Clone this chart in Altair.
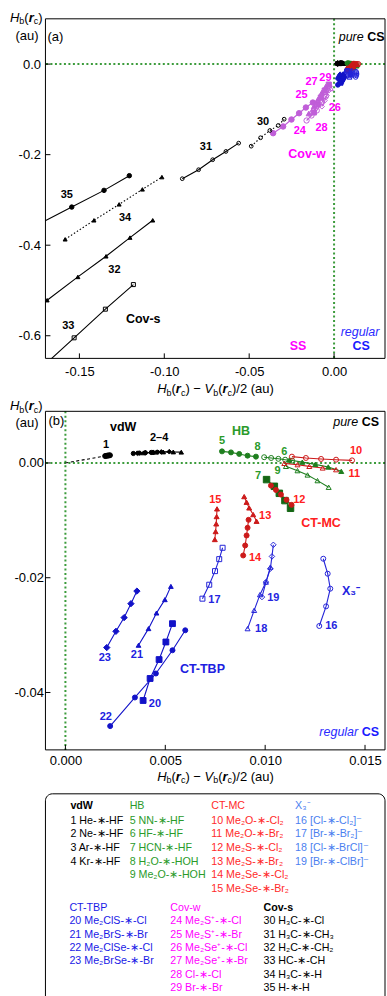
import altair as alt
import pandas as pd

FONT = "Liberation Sans"

# ---------------- series values (au) ----------------
# vdW
s01_x = [0.00199, 0.00205, 0.00211, 0.00217, 0.00223]
s01_y = [0.00120, 0.00124, 0.00128, 0.00131, 0.00134]
s01e_x = [0.0, 0.00199]
s01e_y = [0.0, 0.00120]
s02_x = [0.0034, 0.0037, 0.0040, 0.0043, 0.0046]
s02_y = [0.00165, 0.00172, 0.00178, 0.00183, 0.00187]
s03_x = [0.0036, 0.0040, 0.0044, 0.0048, 0.0052]
s03_y = [0.00170, 0.00178, 0.00186, 0.00192, 0.00196]
s04_x = [0.0039, 0.0044, 0.0049, 0.0054, 0.0058]
s04_y = [0.00176, 0.00185, 0.00192, 0.00192, 0.00188]
# HB
s05_x = [0.00784, 0.00829, 0.00870, 0.00912, 0.00954]
s05_y = [0.00202, 0.00184, 0.00157, 0.00127, 0.00110]
s06_x = [0.01121, 0.01186, 0.01251, 0.01316, 0.01381]
s06_y = [0.00052, 0.00014, -0.00024, -0.00070, -0.00146]
s07_x = [0.01007, 0.01046, 0.01071, 0.01099, 0.01127]
s07_y = [-0.00290, -0.00407, -0.00529, -0.00656, -0.00790]
s08_x = [0.00995, 0.01030, 0.01066, 0.01100, 0.01135]
s08_y = [0.00100, 0.00087, 0.00072, 0.00057, 0.00040]
s09_x = [0.01104, 0.01162, 0.01212, 0.01262, 0.01318]
s09_y = [-0.00059, -0.00134, -0.00209, -0.00308, -0.00424]
# CT-MC
s10_x = [0.01134, 0.01204, 0.01280, 0.01355, 0.01435]
s10_y = [0.00110, 0.00087, 0.00070, 0.00057, 0.00045]
s11_x = [0.01096, 0.01162, 0.01221, 0.01288, 0.01355]
s11_y = [-0.00007, -0.00030, -0.00059, -0.00087, -0.00117]
s12_x = [0.01029, 0.01054, 0.01079, 0.01107, 0.01132]
s12_y = [-0.00395, -0.00470, -0.00551, -0.00643, -0.00730]
s13_x = [0.00895, 0.00907, 0.00920, 0.00940, 0.00957]
s13_y = [-0.00586, -0.00685, -0.00783, -0.00899, -0.01016]
s14_x = [0.00917, 0.00912, 0.00907, 0.00900, 0.00890]
s14_y = [-0.00991, -0.01130, -0.01264, -0.01438, -0.01612]
s15_x = [0.00759, 0.00757, 0.00755, 0.00752, 0.00748]
s15_y = [-0.00800, -0.00934, -0.01061, -0.01195, -0.01334]
# X3-
s16_x = [0.01291, 0.01313, 0.01326, 0.01305, 0.01271]
s16_y = [-0.01669, -0.01930, -0.02191, -0.02499, -0.02841]
s17_x = [0.00787, 0.00770, 0.00749, 0.00720, 0.00686]
s17_y = [-0.01478, -0.01676, -0.01885, -0.02122, -0.02365]
s18_x = [0.00912, 0.00945, 0.00974, 0.01004, 0.01026]
s18_y = [-0.02887, -0.02568, -0.02295, -0.02076, -0.01815]
s19_x = [0.01041, 0.01034, 0.01026, 0.01004, 0.00984]
s19_y = [-0.01426, -0.01629, -0.01843, -0.02076, -0.02337]
# CT-TBP
s20_x = [0.00536, 0.00503, 0.00469, 0.00424, 0.00389]
s20_y = [-0.02800, -0.03120, -0.03426, -0.03756, -0.04139]
s21_x = [0.00528, 0.00498, 0.00456, 0.00416, 0.00366]
s21_y = [-0.02151, -0.02382, -0.02615, -0.02887, -0.03177]
s22_x = [0.00600, 0.00536, 0.00453, 0.00348, 0.00224]
s22_y = [-0.02916, -0.03264, -0.03669, -0.04087, -0.04586]
s23_x = [0.00358, 0.00328, 0.00294, 0.00253, 0.00207]
s23_y = [-0.02233, -0.02452, -0.02695, -0.02934, -0.03217]
# Cov-w
s24_x = [-0.0359, -0.0300, -0.0251, -0.0206, -0.0166, -0.0125]
s24_y = [-0.1526, -0.1378, -0.1224, -0.1085, -0.0959, -0.0849]
s25_x = [-0.0149, -0.0119, -0.0096, -0.0072, -0.0049]
s25_y = [-0.1092, -0.0937, -0.0783, -0.0628, -0.0496]
s26_x = [-0.0072, -0.0055, -0.0043, -0.0031]
s26_y = [-0.0937, -0.0805, -0.0695, -0.0584]
s27_x = [-0.0119, -0.0096, -0.0078, -0.0055, -0.0031]
s27_y = [-0.1069, -0.0893, -0.0739, -0.0584, -0.0452]
s28_x = [-0.0162, -0.0133, -0.0102, -0.0072, -0.0049]
s28_y = [-0.1246, -0.1136, -0.1025, -0.0849, -0.0717]
s29_x = [-0.0049, -0.0037, -0.0025, -0.0019]
s29_y = [-0.0628, -0.0518, -0.0452, -0.0540]
# Cov-s
s30_x = [-0.0488, -0.0433, -0.0378, -0.0329, -0.0294]
s30_y = [-0.1813, -0.1627, -0.1466, -0.1356, -0.1217]
s31_x = [-0.0894, -0.0798, -0.0715, -0.0637, -0.0562]
s31_y = [-0.2531, -0.2333, -0.2112, -0.1929, -0.1746]
s32_x = [-0.1690, -0.1509, -0.1343, -0.1202, -0.1068]
s32_y = [-0.5215, -0.4701, -0.4245, -0.3832, -0.3450]
s33_x = [-0.1800, -0.1531, -0.1347, -0.1182]
s33_y = [-0.6970, -0.6046, -0.5413, -0.4870]
s34_x = [-0.1584, -0.1414, -0.1266, -0.1129, -0.1014]
s34_y = [-0.3870, -0.3450, -0.3098, -0.2767, -0.2496]
s35_x = [-0.1850, -0.1545, -0.1355, -0.1206]
s35_y = [-0.3750, -0.3158, -0.2789, -0.2465]

# ---------------- ticks ----------------
a_xticks = [-0.15, -0.10, -0.05, 0.0]
a_yticks = [-0.6, -0.4, -0.2, 0.0]
b_xticks = [0.0, 0.005, 0.010, 0.015]
b_yticks = [-0.04, -0.02, 0.0]

# ---------------- in-plot labels ----------------
a_num_text = ["35", "34", "32", "33", "31", "30"]
a_num_x = [-0.1574, -0.1231, -0.1294, -0.1565, -0.0755, -0.0418]
a_num_y = [-0.290, -0.339, -0.4538, -0.578, -0.1835, -0.1283]
a_cw_text = ["24", "25", "26", "27", "28", "29"]
a_cw_x = [-0.0202, -0.0192, 0.0004, -0.0133, -0.0074, -0.0051]
a_cw_y = [-0.1488, -0.0673, -0.0966, -0.0401, -0.1407, -0.0313]
a_grp_text = ["Cov-s", "Cov-w", "SS"]
a_grp_x = [-0.1124, -0.0159, -0.0212]
a_grp_y = [-0.562, -0.1996, -0.623]
a_grp_g = ["covs", "covw", "covw"]

b_num_text = ["1", "2–4", "5", "8", "6", "9", "7", "10", "11", "12", "13", "14", "15",
              "16", "17", "18", "19", "20", "21", "22", "23"]
b_num_x = [0.00204, 0.00469, 0.00784, 0.00962, 0.01096, 0.01062, 0.00965, 0.01455, 0.01446,
           0.01171, 0.01000, 0.00949, 0.00750, 0.01331, 0.00746, 0.00980, 0.01041, 0.00448,
           0.00358, 0.00202, 0.00197]
b_num_y = [0.00318, 0.00428, 0.00376, 0.00271, 0.00184, -0.00134, -0.00233, 0.00202, -0.00191,
           -0.00643, -0.00916, -0.01652, -0.00643, -0.02847, -0.02382, -0.02899, -0.02355,
           -0.04203, -0.03351, -0.04424, -0.03391]
b_num_g = ["vdw", "vdw", "hb", "hb", "hb", "hb", "hb", "mc", "mc", "mc", "mc", "mc", "mc",
           "x3", "x3", "x3", "x3", "tbp", "tbp", "tbp", "tbp"]
b_grp_text = ["vdW", "HB", "CT-MC", "X₃⁻", "CT-TBP"]
b_grp_x = [0.00289, 0.00879, 0.01280, 0.01430, 0.00686]
b_grp_y = [0.00631, 0.00550, -0.01043, -0.02233, -0.03594]
b_grp_g = ["vdw", "hb", "mc", "x3", "tbp"]

# ---------------- legend content ----------------
leg1_heads = ["vdW", "HB", "CT-MC", "X₃⁻"]
leg1_items = [
    ["1 He-∗-HF", "2 Ne-∗-HF", "3 Ar-∗-HF", "4 Kr-∗-HF"],
    ["5 NN-∗-HF", "6 HF-∗-HF", "7 HCN-∗-HF", "8 H₂O-∗-HOH", "9 Me₂O-∗-HOH"],
    ["10 Me₂O-∗-Cl₂", "11 Me₂O-∗-Br₂", "12 Me₂S-∗-Cl₂", "13 Me₂S-∗-Br₂",
     "14 Me₂Se-∗-Cl₂", "15 Me₂Se-∗-Br₂"],
    ["16 [Cl-∗-Cl₂]⁻", "17 [Br-∗-Br₂]⁻", "18 [Cl-∗-BrCl]⁻", "19 [Br-∗-ClBr]⁻"],
]
leg2_heads = ["CT-TBP", "Cov-w", "Cov-s"]
leg2_items = [
    ["20 Me₂ClS-∗-Cl", "21 Me₂BrS-∗-Br", "22 Me₂ClSe-∗-Cl", "23 Me₂BrSe-∗-Br"],
    ["24 Me₂S⁺-∗-Cl", "25 Me₂S⁺-∗-Br", "26 Me₂Se⁺-∗-Cl", "27 Me₂Se⁺-∗-Br", "28 Cl-∗-Cl", "29 Br-∗-Br"],
    ["30 H₃C-∗-Cl", "31 H₃C-∗-CH₃", "32 H₂C-∗-CH₂", "33 HC-∗-CH", "34 H₃C-∗-H", "35 H-∗-H"],
]

# ---------------- styles ----------------
MARK = {"vdw": "#000000", "hb": "#1f7f1f", "hb7": "#146614", "mc": "#cc1a1a", "x3": "#2424d8",
        "tbp": "#1212c8", "covw": "#c05ed8", "covs": "#000000"}
LABEL = {"vdw": "#000000", "hb": "#2a9a2a", "mc": "#ff2020", "x3": "#2424e0", "tbp": "#2020e0",
         "covw": "#ff00ff", "covs": "#000000"}
LEG1_COL = ["#000000", "#2a9a2a", "#ff2a2a", "#4b7ff0"]
LEG1_BOLD = [True, False, False, False]
LEG2_COL = ["#1a1ae6", "#ff00ff", "#000000"]
LEG2_BOLD = [False, False, True]
GREEN_DOT = "#3c9c3c"
LEG_SIZE = 10.7

SERIES = {1: (s01_x, s01_y), 2: (s02_x, s02_y), 3: (s03_x, s03_y), 4: (s04_x, s04_y),
          5: (s05_x, s05_y), 6: (s06_x, s06_y), 7: (s07_x, s07_y), 8: (s08_x, s08_y),
          9: (s09_x, s09_y), 10: (s10_x, s10_y), 11: (s11_x, s11_y), 12: (s12_x, s12_y),
          13: (s13_x, s13_y), 14: (s14_x, s14_y), 15: (s15_x, s15_y), 16: (s16_x, s16_y),
          17: (s17_x, s17_y), 18: (s18_x, s18_y), 19: (s19_x, s19_y), 20: (s20_x, s20_y),
          21: (s21_x, s21_y), 22: (s22_x, s22_y), 23: (s23_x, s23_y), 24: (s24_x, s24_y),
          25: (s25_x, s25_y), 26: (s26_x, s26_y), 27: (s27_x, s27_y), 28: (s28_x, s28_y),
          29: (s29_x, s29_y), 30: (s30_x, s30_y), 31: (s31_x, s31_y), 32: (s32_x, s32_y),
          33: (s33_x, s33_y), 34: (s34_x, s34_y), 35: (s35_x, s35_y)}

# shape, filled, colour key, line style
STYLE = {
    1: ("circle", True, "vdw", "solid"), 2: ("circle", True, "vdw", "solid"),
    3: ("diamond", True, "vdw", "solid"), 4: ("triangle-up", True, "vdw", "solid"),
    5: ("circle", True, "hb", "solid"), 6: ("triangle-up", True, "hb", "solid"),
    7: ("square", True, "hb7", "solid"), 8: ("circle", False, "hb", "solid"),
    9: ("triangle-up", False, "hb", "solid"),
    10: ("circle", False, "mc", "solid"), 11: ("triangle-up", False, "mc", "solid"),
    12: ("circle", True, "mc", "solid"), 13: ("triangle-up", True, "mc", "solid"),
    14: ("circle", True, "mc", "solid"), 15: ("triangle-up", True, "mc", "solid"),
    16: ("circle", False, "x3", "solid"), 17: ("square", False, "x3", "solid"),
    18: ("triangle-up", False, "x3", "solid"), 19: ("diamond", False, "x3", "solid"),
    20: ("square", True, "tbp", "solid"), 21: ("triangle-up", True, "tbp", "solid"),
    22: ("circle", True, "tbp", "solid"), 23: ("diamond", True, "tbp", "solid"),
    24: ("circle", True, "covw", "solid"), 25: ("triangle-up", True, "covw", "solid"),
    26: ("diamond", False, "covw", "solid"), 27: ("square", True, "covw", "solid"),
    28: ("circle", False, "covw", "solid"), 29: ("triangle-up", False, "covw", "solid"),
    30: ("circle", False, "covs", "dotted"), 31: ("circle", False, "covs", "solid"),
    32: ("triangle-up", True, "covs", "solid"), 33: ("square", False, "covs", "solid"),
    34: ("triangle-up", True, "covs", "dotted"), 35: ("circle", True, "covs", "solid"),
}
SIZE_B = {2: 18, 3: 22, 4: 20, 7: 42, 19: 30, 20: 34, 21: 22, 23: 40}
SIZE_A = {30: 14, 31: 14, 33: 16, 32: 16, 34: 16, 35: 20, 24: 30, 25: 28, 26: 26, 27: 26, 28: 28, 29: 26}
DASHES = {"dotted": [1.5, 2], "dashed": [3, 2.5]}

WA, HA = 340, 340
WB, HB = 340, 339


def series_df(ids, size_map, default_size):
    rows = []
    for sid in ids:
        xs, ys = SERIES[sid]
        shape, filled, ck, dash = STYLE[sid]
        col = MARK[ck]
        for i, (xv, yv) in enumerate(zip(xs, ys)):
            rows.append(dict(sid=sid, ord=i, x=xv, y=yv, shape=shape, col=col,
                             fill=col if filled else "transparent", dash=dash,
                             size=size_map.get(sid, default_size)))
    return pd.DataFrame(rows)


# ---------- rich text helper (sub-scripts etc.) ----------
W_REG = {"H": 722, "b": 556, "(": 333, ")": 333, "r": 333, "c": 500, " ": 278, "−": 584, "V": 667,
         "/": 278, "2": 556, "a": 556, "u": 556, "C": 722, "S": 667, "p": 556, "e": 556}
W_BOLD = {"r": 389, "C": 722, "S": 667}


def tw(s, size, bold=False):
    t = 0
    for ch in s:
        t += (W_BOLD.get(ch, W_REG.get(ch, 556)) if bold else W_REG.get(ch, 556))
    return t * size / 1000.0


def rich(segs, x0, y0, anchor="left", color="black"):
    total = sum(tw(t, s, w == "bold") for t, s, st, w, dy in segs)
    x = x0 - total / 2 if anchor == "center" else x0
    out = []
    for t, s, st, w, dy in segs:
        out.append(alt.Chart().mark_text(text=t, font=FONT, fontSize=s, fontStyle=st, fontWeight=w,
                                         align="left", baseline="middle", color=color)
                   .encode(x=alt.value(x), y=alt.value(y0 + dy)))
        x += tw(t, s, w == "bold")
    return out


def ptext(t, x, y, size, color="black", style="normal", weight="normal", align="left"):
    return alt.Chart().mark_text(text=t, font=FONT, fontSize=size, fontStyle=style, fontWeight=weight,
                                 align=align, baseline="middle", color=color).encode(
        x=alt.value(x), y=alt.value(y))


SUB = 3.5
HB_SEGS = [("H", 13, "italic", "normal", 0), ("b", 9, "normal", "normal", SUB),
           ("(", 13, "normal", "normal", 0), ("r", 13, "italic", "bold", 0),
           ("c", 9, "normal", "normal", SUB), (")", 13, "normal", "normal", 0)]
XT_SEGS = HB_SEGS[:-1] + [(") − ", 13, "normal", "normal", 0), ("V", 13, "italic", "normal", 0),
                          ("b", 9, "normal", "normal", SUB), ("(", 13, "normal", "normal", 0),
                          ("r", 13, "italic", "bold", 0), ("c", 9, "normal", "normal", SUB),
                          (")/2 (au)", 13, "normal", "normal", 0)]


def label_layer(texts, xs, ys, colors, xsc, ysc, axx, axy, size, weight="bold", style="normal"):
    df = pd.DataFrame({"t": texts, "x": xs, "y": ys, "c": colors})
    return alt.Chart(df).mark_text(font=FONT, fontSize=size, fontWeight=weight, fontStyle=style,
                                   align="center", baseline="middle").encode(
        x=alt.X("x:Q", scale=xsc, axis=axx), y=alt.Y("y:Q", scale=ysc, axis=axy),
        text="t:N", color=alt.Color("c:N", scale=None))


def data_layers(df, ext_df, xsc, ysc, axx, axy):
    layers = []
    for dash in ["solid", "dotted"]:
        sub = df[df.dash == dash]
        if len(sub) == 0:
            continue
        kw = dict(clip=True, strokeWidth=1.1)
        if dash != "solid":
            kw["strokeDash"] = DASHES[dash]
        layers.append(alt.Chart(sub).mark_line(**kw).encode(
            x=alt.X("x:Q", scale=xsc, axis=axx), y=alt.Y("y:Q", scale=ysc, axis=axy),
            detail="sid:N", order="ord:Q", stroke=alt.Stroke("col:N", scale=None)))
    layers.append(alt.Chart(ext_df).mark_line(clip=True, strokeWidth=1.1, strokeDash=DASHES["dashed"],
                                               color="black").encode(
        x=alt.X("x:Q", scale=xsc, axis=axx), y=alt.Y("y:Q", scale=ysc, axis=axy)))
    layers.append(alt.Chart(df).mark_point(clip=True, opacity=1, strokeWidth=1).encode(
        x=alt.X("x:Q", scale=xsc, axis=axx), y=alt.Y("y:Q", scale=ysc, axis=axy),
        shape=alt.Shape("shape:N", scale=None), fill=alt.Fill("fill:N", scale=None),
        stroke=alt.Stroke("col:N", scale=None), size=alt.Size("size:Q", scale=None)))
    return layers


def guide_layers(xsc, ysc, axx, axy, xt, yt, W, H):
    g = []
    g.append(alt.Chart().mark_rule(color=GREEN_DOT, strokeWidth=2, strokeDash=[2, 2.5]).encode(
        x=alt.X(datum=0, scale=xsc, axis=axx)))
    g.append(alt.Chart().mark_rule(color=GREEN_DOT, strokeWidth=2, strokeDash=[2, 2.5]).encode(
        y=alt.Y(datum=0, scale=ysc, axis=axy)))
    g.append(alt.Chart(pd.DataFrame({"v": xt})).mark_rule(color="black").encode(
        x=alt.X("v:Q", scale=xsc, axis=axx), y=alt.value(H - 5), y2=alt.value(H)))
    g.append(alt.Chart(pd.DataFrame({"v": yt})).mark_rule(color="black").encode(
        y=alt.Y("v:Q", scale=ysc, axis=axy), x=alt.value(0), x2=alt.value(5)))
    g.append(alt.Chart().mark_rect(filled=False, stroke="black", strokeWidth=1).encode(
        x=alt.value(0), x2=alt.value(W), y=alt.value(0), y2=alt.value(H)))
    return g


MINUS = "replace(datum.label, '−', '-')"
axis_common = dict(title=None, ticks=False, domain=False, grid=False, labelFont=FONT,
                   labelFontSize=13, labelColor="black", labelOverlap=False, labelFlush=False,
                   labelExpr=MINUS)

# ================= panel (a) =================
xs_a = alt.Scale(domain=[-0.17, 0.03], nice=False, zero=False)
ys_a = alt.Scale(domain=[-0.65, 0.10], nice=False, zero=False)
ax_ax = alt.Axis(values=a_xticks, format=".2f", labelPadding=7, **axis_common)
ax_ay = alt.Axis(values=a_yticks, format=".1f", labelPadding=5, **axis_common)

df_a = series_df(list(range(1, 36)), SIZE_A, 22)
ext_df = pd.DataFrame({"x": s01e_x, "y": s01e_y})

a_layers = guide_layers(xs_a, ys_a, ax_ax, ax_ay, a_xticks, a_yticks, WA, HA)
a_layers += data_layers(df_a, ext_df, xs_a, ys_a, ax_ax, ax_ay)
a_layers.append(label_layer(a_num_text, a_num_x, a_num_y, ["black"] * 6, xs_a, ys_a, ax_ax, ax_ay, 11))
a_layers.append(label_layer(a_cw_text, a_cw_x, a_cw_y, [LABEL["covw"]] * 6, xs_a, ys_a, ax_ax, ax_ay, 11))
a_layers.append(label_layer(a_grp_text, a_grp_x, a_grp_y, [LABEL[g] for g in a_grp_g],
                            xs_a, ys_a, ax_ax, ax_ay, 12.5))
a_layers.append(ptext("(a)", 2, 18.7, 13))
a_layers.append(ptext("CS", 339.5, 18.7, 12.5, weight="bold", align="right"))
a_layers.append(ptext("pure", 339.5 - tw("CS ", 12.5, True), 18.7, 12.5, style="italic", align="right"))
a_layers.append(ptext("regular", 315, 313.7, 12.5, color="#2a2aff", style="italic", align="center"))
a_layers.append(ptext("CS", 316, 328, 12.5, color="#1a1aff", weight="bold", align="center"))
a_layers += rich(HB_SEGS, -35.5, -1.3)
a_layers.append(ptext("(au)", -30, 17, 13))
a_layers += rich(XT_SEGS, 170.3, 371, anchor="center")

panel_a = alt.layer(*a_layers).properties(width=WA, height=HA)

# ================= panel (b) =================
xs_b = alt.Scale(domain=[-0.001, 0.016], nice=False, zero=False)
ys_b = alt.Scale(domain=[-0.05, 0.009], nice=False, zero=False)
ax_bx = alt.Axis(values=b_xticks, format=".3f", labelPadding=5, **axis_common)
ax_by = alt.Axis(values=b_yticks, format=".2f", labelPadding=2, **axis_common)

df_b = series_df(list(range(1, 24)), SIZE_B, 25)

b_layers = guide_layers(xs_b, ys_b, ax_bx, ax_by, b_xticks, b_yticks, WB, HB)
b_layers += data_layers(df_b, ext_df, xs_b, ys_b, ax_bx, ax_by)
b_layers.append(label_layer(b_num_text, b_num_x, b_num_y, [LABEL[g] for g in b_num_g],
                            xs_b, ys_b, ax_bx, ax_by, 11))
b_layers.append(label_layer(b_grp_text, b_grp_x, b_grp_y, [LABEL[g] for g in b_grp_g],
                            xs_b, ys_b, ax_bx, ax_by, 12.5))
b_layers.append(ptext("(b)", 3, 10, 13))
b_layers.append(ptext("CS", 334, 11, 12.5, weight="bold", align="right"))
b_layers.append(ptext("pure", 334 - tw("CS ", 12.5, True), 11, 12.5, style="italic", align="right"))
b_layers.append(ptext("CS", 334, 321.3, 12.5, color="#1a1aff", weight="bold", align="right"))
b_layers.append(ptext("regular", 334 - tw("CS ", 12.5, True), 321.3, 12.5, color="#2a2aff",
                      style="italic", align="right"))
b_layers += rich(HB_SEGS, -35.5, -5)
b_layers.append(ptext("(au)", -30, 11.5, 13))
b_layers += rich(XT_SEGS, 170.3, 365.7, anchor="center")

panel_b = alt.layer(*b_layers).properties(width=WB, height=HB)

# ================= legend panel =================
rows = []
col_x1 = [25, 84.3, 166, 250]
for ci, head in enumerate(leg1_heads):
    rows.append(dict(t=head, px=col_x1[ci], py=3, c=LEG1_COL[ci], b=LEG1_BOLD[ci]))
    for ri, item in enumerate(leg1_items[ci]):
        rows.append(dict(t=item, px=col_x1[ci], py=18 + 13.6 * ri, c=LEG1_COL[ci], b=False))
col_x2 = [24, 125, 218.3]
for ci, head in enumerate(leg2_heads):
    rows.append(dict(t=head, px=col_x2[ci], py=105.3, c=LEG2_COL[ci], b=LEG2_BOLD[ci]))
    for ri, item in enumerate(leg2_items[ci]):
        rows.append(dict(t=item, px=col_x2[ci], py=118.7 + 13.4 * ri, c=LEG2_COL[ci], b=False))
leg_df = pd.DataFrame(rows)


def leg_text(df, weight):
    return alt.Chart(df).mark_text(font=FONT, fontSize=LEG_SIZE, fontWeight=weight, align="left",
                                   baseline="middle").encode(
        x=alt.X("px:Q", scale=None), y=alt.Y("py:Q", scale=None), text="t:N",
        color=alt.Color("c:N", scale=None))


leg_box = alt.Chart().mark_rect(filled=False, stroke="black", strokeWidth=1, cornerRadius=7).encode(
    x=alt.value(0), x2=alt.value(340), y=alt.value(-9), y2=alt.value(205))
legend = alt.layer(leg_box, leg_text(leg_df[leg_df.b], "bold"),
                   leg_text(leg_df[~leg_df.b], "normal")).properties(width=340, height=190)

chart = alt.vconcat(panel_a, panel_b, legend, spacing=53, bounds="flush").configure_view(
    stroke="transparent").properties(padding={"left": 9.5, "top": 10.2, "right": 0, "bottom": 0})

chart.save("out.html", embed_options={"renderer": "svg", "actions": False})
